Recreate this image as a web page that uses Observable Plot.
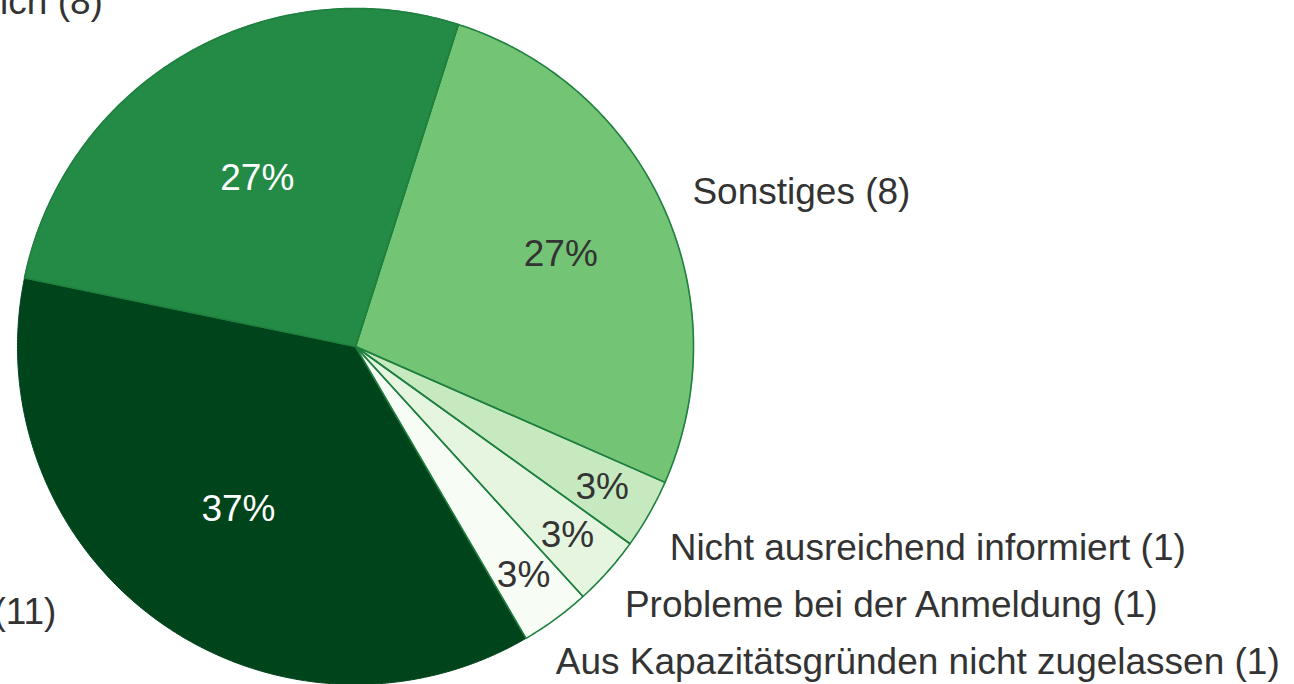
<!DOCTYPE html>
<html><head><meta charset="utf-8">
<script src="https://cdn.jsdelivr.net/npm/d3@7"></script>
<script src="https://cdn.jsdelivr.net/npm/@observablehq/plot@0.6"></script>
<style>html,body{margin:0;padding:0;background:#fff;overflow:hidden;}</style>
</head><body><div id="chart"></div>
<script>
// ---- data ----
const categories = ["Sonstiges","Nicht ausreichend informiert","Probleme bei der Anmeldung","Aus Kapazitätsgründen nicht zugelassen","Kein Interesse","Zeitlich nicht möglich"];
const counts = [8, 1, 1, 1, 11, 8];
const sliceColors = ["#74c476","#c7e9c0","#e5f5e0","#f7fcf5","#00441b","#238b45"];

// ---- layout ----
const W = 1294, H = 684, CX = 355, CY = 346, R = 338;
const START = 17.7 * Math.PI / 180;
const FONT = 37, LINE = 57, TEXT = "#333333", EDGE = "#1f8040";
const total = d3.sum(counts);
const arcs = d3.pie().sort(null).startAngle(START).endAngle(START + 2 * Math.PI)(counts);
const colorOf = d3.scaleOrdinal(categories, sliceColors);

// slice outlines (unit circle, y up, angle clockwise from top)
const pts = [];
arcs.forEach((a, i) => {
  const cat = categories[i];
  pts.push({cat, x: 0, y: 0});
  const n = Math.max(2, Math.ceil((a.endAngle - a.startAngle) / (Math.PI / 360)));
  for (let k = 0; k <= n; k++) {
    const t = a.startAngle + (a.endAngle - a.startAngle) * k / n;
    pts.push({cat, x: Math.sin(t), y: Math.cos(t)});
  }
});
const outlined = pts.filter(p => d3.hsl(colorOf(p.cat)).l > 0.2);

// percentage labels
const pct = arcs.map((a, i) => {
  const mid = (a.startAngle + a.endAngle) / 2;
  const share = a.value / total;
  const r = share < 0.1 ? 0.84 : 0.575 + (75 / R) * (Math.abs(Math.sin(mid)) - 0.5);
  return {
    x: Math.sin(mid) * r, y: Math.cos(mid) * r,
    text: Math.round(share * 100) + "%",
    fill: d3.hsl(colorOf(categories[i])).l < 0.4 ? "#ffffff" : TEXT
  };
});

// outside labels
const RL = 1.11;
const info = arcs.map((a, i) => ({i, mid: (a.startAngle + a.endAngle) / 2, share: a.value / total,
  text: categories[i] + " (" + counts[i] + ")"}));
const outside = [];
info.filter(d => Math.sin(d.mid) >= 0 && d.share >= 0.1).forEach(d =>
  outside.push({x: Math.sin(d.mid) * RL - 5 / R, y: Math.cos(d.mid) * RL, text: d.text, anchor: "start"}));
info.filter(d => Math.sin(d.mid) >= 0 && d.share < 0.1)
  .sort((a, b) => b.mid - a.mid)
  .forEach((d, k) => {
    const y = (CY - (H - 22 - k * LINE)) / R;
    outside.push({x: Math.sqrt(RL * RL - y * y) - 2 / R, y, text: d.text, anchor: "start"});
  });
info.filter(d => Math.sin(d.mid) < 0).forEach(d => {
  const c = Math.cos(d.mid);
  outside.push({x: Math.sin(d.mid) * RL + (-72 + 10 * c) / R, y: c * RL + (30 - 11 * c) / R, text: d.text, anchor: "end"});
});

const chart = Plot.plot({
  width: W, height: H, margin: 0,
  x: {domain: [-1, 1], range: [CX - R, CX + R], axis: null},
  y: {domain: [-1, 1], range: [CY + R, CY - R], axis: null},
  color: {domain: categories, range: sliceColors},
  style: {fontFamily: "'Liberation Sans', Arial, sans-serif", background: "#fff"},
  marks: [
    Plot.line(pts, {x: "x", y: "y", z: "cat", fill: "cat", stroke: "cat", strokeWidth: 1, curve: "linear-closed"}),
    Plot.line(outlined, {x: "x", y: "y", z: "cat", stroke: EDGE, strokeWidth: 1.6, curve: "linear-closed"}),
    Plot.text(pct, {x: "x", y: "y", text: "text", fill: "fill", fontSize: FONT}),
    Plot.text(outside.filter(d => d.anchor === "start"), {x: "x", y: "y", text: "text", fill: TEXT, fontSize: FONT, textAnchor: "start"}),
    Plot.text(outside.filter(d => d.anchor === "end"), {x: "x", y: "y", text: "text", fill: TEXT, fontSize: FONT, textAnchor: "end"})
  ]
});
document.getElementById("chart").appendChild(chart);
</script>
</body></html>
